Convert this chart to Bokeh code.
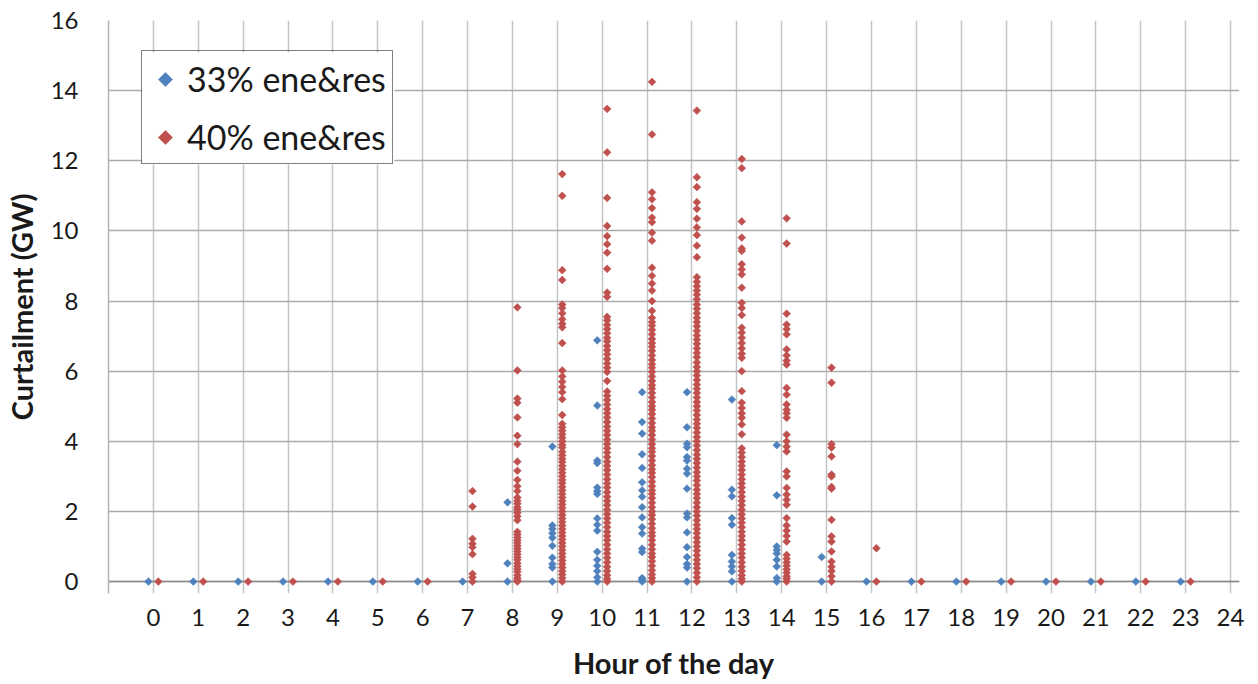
import math

from bokeh.plotting import figure
from bokeh.models import (FixedTicker, Span, Legend, LegendItem,
                          ColumnDataSource, Range1d)
from bokeh.embed import file_html
from bokeh.resources import INLINE

hours = list(range(24))
hour_ticks = list(range(25))
gw_ticks = [0, 2, 4, 6, 8, 10, 12, 14, 16]
series_labels = ["33% ene&res", "40% ene&res"]

# --- 33% ene&res: hourly curtailment samples (GW); other hours are all zero ---
c33_h08 = [2.26, 0.52, 0.0]
c33_h09 = [3.85, 1.6, 1.5, 1.38, 1.25, 1.02, 0.68, 0.5, 0.4, 0.0]
c33_h10 = [6.88, 5.02, 3.45, 3.38, 2.68, 2.58, 2.5, 1.8, 1.62, 1.45,
           0.85, 0.62, 0.45, 0.3, 0.12, 0.0]
c33_h11 = [5.4, 4.55, 4.22, 3.63, 3.24, 2.83, 2.6, 2.42, 2.12, 1.83,
           1.55, 1.37, 0.94, 0.84, 0.1, 0.05, 0.0]
c33_h12 = [5.4, 4.4, 3.93, 3.83, 3.55, 3.45, 3.22, 3.08, 2.65, 1.94,
           1.83, 1.4, 0.98, 0.7, 0.5, 0.4, 0.0]
c33_h13 = [5.19, 2.62, 2.43, 1.81, 1.62, 0.76, 0.57, 0.43, 0.29, 0.0]
c33_h14 = [3.89, 2.46, 1.0, 0.9, 0.8, 0.62, 0.43, 0.1, 0.0]
c33_h15 = [0.7, 0.0]

# --- 40% ene&res: hourly curtailment samples (GW); other hours are all zero ---
c40_h07 = [2.58, 2.14, 1.22, 1.08, 0.98, 0.78, 0.22, 0.12, 0.0]
c40_h08 = [7.82, 6.02, 5.22, 5.1, 4.68, 4.16, 3.92, 3.42, 3.16, 2.9,
           2.72, 2.58, 2.4, 2.3, 2.22, 2.12, 2.05, 1.96, 1.86, 1.75,
           1.42, 1.34, 1.26, 1.18, 1.1, 1.02, 0.94, 0.86, 0.78, 0.7,
           0.62, 0.52, 0.44, 0.36, 0.28, 0.18, 0.1, 0.04, 0.0]
c40_h09 = [11.62, 11.0, 8.88, 8.6, 7.9, 7.8, 7.65, 7.48, 7.35, 7.25,
           6.8, 6.02, 5.85, 5.7, 5.55, 5.4, 5.2, 4.75, 4.5, 4.4,
           4.3, 4.2, 4.1, 4.0, 3.9, 3.82, 3.7, 3.6, 3.5, 3.41,
           3.3, 3.2, 3.1, 3.0, 2.9, 2.81, 2.7, 2.6, 2.5, 2.4,
           2.3, 2.2, 2.1, 2.0, 1.9, 1.8, 1.7, 1.6, 1.5, 1.4,
           1.3, 1.2, 1.1, 1.0, 0.9, 0.8, 0.7, 0.6, 0.5, 0.4,
           0.3, 0.2, 0.1, 0.0]
c40_h10 = [13.48, 12.24, 10.94, 10.14, 9.85, 9.62, 9.38, 8.92, 8.24, 8.12,
           7.55, 7.45, 7.32, 7.2, 7.08, 6.95, 6.85, 6.72, 6.6, 6.48,
           6.35, 6.22, 6.1, 5.98, 5.72, 5.42, 5.3, 5.18, 5.05, 4.92,
           4.8, 4.68, 4.55, 4.42, 4.3, 4.18, 4.05, 3.92, 3.8, 3.68,
           3.55, 3.42, 3.3, 3.18, 3.05, 2.92, 2.8, 2.68, 2.55, 2.42,
           2.3, 2.18, 2.05, 1.92, 1.8, 1.68, 1.55, 1.42, 1.3, 1.18,
           1.05, 0.92, 0.8, 0.68, 0.55, 0.42, 0.3, 0.18, 0.08, 0.0]
c40_h11 = [14.25, 12.75, 11.1, 10.9, 10.65, 10.38, 10.25, 9.95, 9.72, 8.95,
           8.72, 8.5, 8.3, 8.0, 7.72, 7.52, 7.4, 7.3, 7.18, 7.05,
           6.92, 6.8, 6.7, 6.58, 6.45, 6.32, 6.2, 6.1, 5.98, 5.85,
           5.72, 5.6, 5.5, 5.38, 5.25, 5.12, 5.0, 4.9, 4.78, 4.65,
           4.52, 4.4, 4.3, 4.18, 4.05, 3.92, 3.8, 3.7, 3.58, 3.45,
           3.32, 3.2, 3.1, 2.98, 2.85, 2.72, 2.6, 2.5, 2.38, 2.25,
           2.12, 2.0, 1.9, 1.78, 1.65, 1.52, 1.4, 1.3, 1.18, 1.05,
           0.92, 0.8, 0.7, 0.58, 0.45, 0.32, 0.2, 0.1, 0.0]
c40_h12 = [13.43, 11.53, 11.25, 10.82, 10.63, 10.35, 10.1, 9.88, 9.58, 9.25,
           8.68, 8.55, 8.42, 8.3, 8.18, 8.05, 7.9, 7.78, 7.65, 7.52,
           7.4, 7.28, 7.15, 7.02, 6.9, 6.78, 6.65, 6.52, 6.4, 6.25,
           6.12, 6.0, 5.88, 5.75, 5.62, 5.5, 5.38, 5.25, 5.12, 5.0,
           4.88, 4.75, 4.62, 4.5, 4.38, 4.25, 4.12, 4.0, 3.88, 3.75,
           3.62, 3.5, 3.38, 3.25, 3.12, 3.0, 2.88, 2.75, 2.62, 2.5,
           2.38, 2.25, 2.12, 2.0, 1.88, 1.75, 1.62, 1.5, 1.38, 1.25,
           1.12, 1.0, 0.88, 0.75, 0.62, 0.5, 0.38, 0.25, 0.12, 0.0]
c40_h13 = [12.05, 11.79, 10.27, 9.81, 9.5, 9.43, 9.05, 8.9, 8.76, 8.38,
           7.95, 7.8, 7.6, 7.24, 7.1, 6.95, 6.8, 6.65, 6.5, 6.38,
           6.0, 5.43, 5.1, 4.95, 4.8, 4.67, 4.48, 4.2, 3.8, 3.68,
           3.55, 3.42, 3.3, 3.18, 3.05, 2.92, 2.8, 2.68, 2.55, 2.42,
           2.3, 2.18, 2.05, 1.92, 1.8, 1.68, 1.55, 1.42, 1.3, 1.18,
           1.05, 0.92, 0.8, 0.68, 0.55, 0.42, 0.3, 0.18, 0.08, 0.0]
c40_h14 = [10.36, 9.64, 7.64, 7.33, 7.2, 7.05, 6.62, 6.45, 6.3, 6.19,
           5.52, 5.33, 5.05, 4.9, 4.8, 4.67, 4.19, 4.0, 3.85, 3.71,
           3.14, 3.0, 2.67, 2.48, 2.33, 2.19, 1.81, 1.6, 1.45, 1.3,
           1.14, 0.76, 0.65, 0.55, 0.45, 0.35, 0.25, 0.15, 0.08, 0.0]
c40_h15 = [6.1, 5.67, 3.92, 3.82, 3.57, 3.05, 3.0, 2.7, 2.65, 1.76,
           1.29, 1.14, 0.86, 0.57, 0.42, 0.3, 0.15, 0.0]
c40_h16 = [0.95, 0.0]

BLUE = "#4F81BD"
RED = "#C0504D"
TEXT = "#1A1A1A"
FONT = "Lato"

# plot frame edges in page pixels (left, right, top, bottom)
FRAME_L, FRAME_R, FRAME_T, FRAME_B = 107, 1239, 20, 593


def collect(by_hour, shift):
    xs, ys = [], []
    for h in hours:
        vals = by_hour.get(h, [0.0])
        xs.extend([h + shift] * len(vals))
        ys.extend(vals)
    return ColumnDataSource(data=dict(x=xs, y=ys))


case33 = {8: c33_h08, 9: c33_h09, 10: c33_h10, 11: c33_h11,
          12: c33_h12, 13: c33_h13, 14: c33_h14, 15: c33_h15}
case40 = {7: c40_h07, 8: c40_h08, 9: c40_h09, 10: c40_h10, 11: c40_h11,
          12: c40_h12, 13: c40_h13, 14: c40_h14, 15: c40_h15, 16: c40_h16}

p = figure(width=1258, height=684, x_range=(-1, 24.2), y_range=(-0.34, 16),
           output_backend="svg", toolbar_location=None,
           min_border_left=FRAME_L, min_border_right=1258 - FRAME_R,
           min_border_top=FRAME_T, min_border_bottom=684 - FRAME_B,
           background_fill_color="white", border_fill_color="white",
           outline_line_color=None)
p.extra_x_ranges = {"page": Range1d(FRAME_L, FRAME_R)}
p.extra_y_ranges = {"page": Range1d(FRAME_B, FRAME_T)}

# grid: light vertical lines at every hour, slightly darker horizontal lines
p.xgrid.ticker = FixedTicker(ticks=hour_ticks)
p.xgrid.grid_line_color = "#C4C4C4"
p.xgrid.grid_line_width = 1.5
p.ygrid.ticker = FixedTicker(ticks=gw_ticks)
p.ygrid.grid_line_color = "#ABABAB"
p.ygrid.grid_line_width = 1.5

p.add_layout(Span(location=0, dimension="width", line_color="#8A8A8A",
                  line_width=1.5, level="underlay"))

# legend geometry (page pixels)
LEG_PAD, LEG_ROW, LEG_GAP, LEG_GLYPH_W = 6, 42, 16, 36
LEG_LEFT, LEG_TOP, LEG_RIGHT = 140, 52, 393
leg_height = 2 * LEG_PAD + 2 * LEG_ROW + LEG_GAP

# white panel behind the legend so the grid does not show through
p.quad(left=[LEG_LEFT], right=[LEG_RIGHT], top=[LEG_TOP], bottom=[LEG_TOP + leg_height],
       fill_color="white", line_color=None,
       x_range_name="page", y_range_name="page")

marker_kw = dict(marker="square", angle=math.pi / 4, size=5.5, line_width=0.6)
r33 = p.scatter("x", "y", source=collect(case33, -0.11),
                fill_color=BLUE, line_color=BLUE, **marker_kw)
r40 = p.scatter("x", "y", source=collect(case40, 0.11),
                fill_color=RED, line_color=RED, **marker_kw)

# diamond legend keys
key_x = LEG_LEFT + LEG_PAD + LEG_GLYPH_W / 2
key_y0 = LEG_TOP + LEG_PAD + LEG_ROW / 2
p.scatter(x=[key_x, key_x], y=[key_y0, key_y0 + LEG_ROW + LEG_GAP],
          fill_color=[BLUE, RED], line_color=[BLUE, RED],
          marker="square", angle=math.pi / 4, size=10, line_width=0.6,
          x_range_name="page", y_range_name="page")

# axes
p.xaxis.ticker = FixedTicker(ticks=hour_ticks)
p.xaxis.axis_line_color = None
p.xaxis.major_tick_line_color = None
p.xaxis.minor_tick_line_color = None
p.xaxis.major_tick_out = 0
p.xaxis.major_tick_in = 0
p.xaxis.major_label_standoff = 15
p.xaxis.axis_label = "Hour of the day"
p.xaxis.axis_label_standoff = 16

p.yaxis.ticker = FixedTicker(ticks=gw_ticks)
p.yaxis.axis_line_color = "#B4B4B4"
p.yaxis.axis_line_width = 1.5
p.yaxis.major_tick_line_color = None
p.yaxis.minor_tick_line_color = None
p.yaxis.major_tick_out = 0
p.yaxis.major_tick_in = 0
p.yaxis.major_label_standoff = 30
p.yaxis.axis_label = "Curtailment (GW)"
p.yaxis.axis_label_standoff = 9

for ax in (p.xaxis[0], p.yaxis[0]):
    ax.major_label_text_font = FONT
    ax.major_label_text_font_size = "24px"
    ax.major_label_text_color = TEXT
    ax.axis_label_text_font = FONT
    ax.axis_label_text_font_size = "29px"
    ax.axis_label_text_font_style = "bold"
    ax.axis_label_text_color = TEXT

# legend box and labels; its own glyphs are invisible proxies
key_proxies = [p.scatter(x=[], y=[], marker="square", fill_alpha=0, line_alpha=0)
               for _ in series_labels]
legend = Legend(
    items=[LegendItem(label=lab, renderers=[r])
           for lab, r in zip(series_labels, key_proxies)],
    location=(LEG_LEFT - FRAME_L, (FRAME_B - FRAME_T) - (LEG_TOP - FRAME_T) - leg_height),
    orientation="vertical",
    border_line_color="black", border_line_width=1.5,
    background_fill_alpha=0.0,
    padding=LEG_PAD, spacing=LEG_GAP, margin=0,
    glyph_width=LEG_GLYPH_W, glyph_height=LEG_ROW, label_height=LEG_ROW,
    label_standoff=3,
    label_text_font=FONT, label_text_font_size="34px", label_text_color=TEXT,
)
p.add_layout(legend)

open("out.html", "w").write(file_html(p, INLINE))
